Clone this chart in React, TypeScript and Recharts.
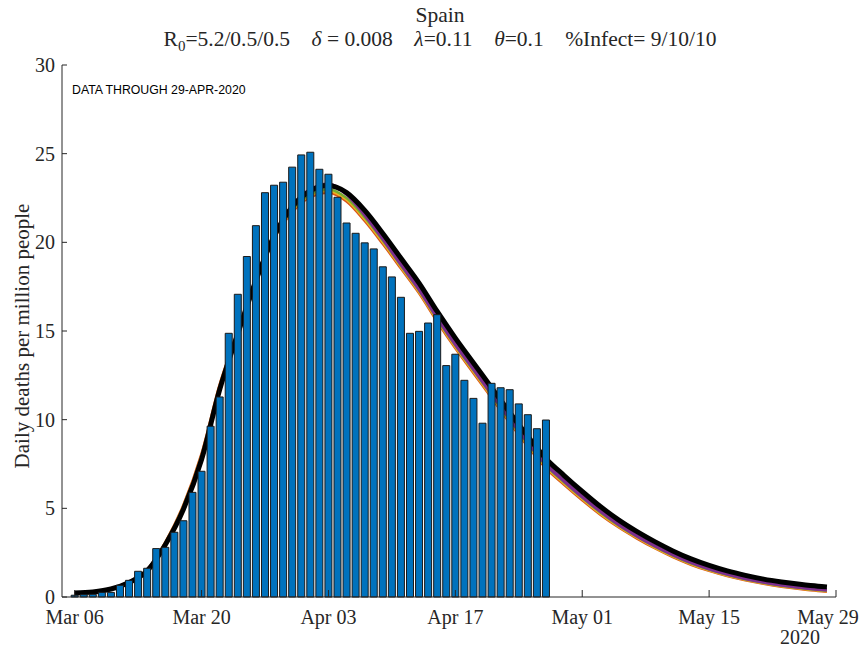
import React from "react";
import { ComposedChart, Bar, Line, XAxis, YAxis, Text } from "recharts";

// x positions are days after Mar 06 2020
const tickDays = [0, 14, 28, 42, 56, 70, 84];
const tickLabels = ["Mar 06", "Mar 20", "Apr 03", "Apr 17", "May 01", "May 15", "May 29"];
const yTicks = [0, 5, 10, 15, 20, 25, 30];

// reported daily deaths per million (Mar 06 .. Apr 27)
const deaths = [
  0.1, 0.13, 0.15, 0.26, 0.26, 0.66, 0.94, 1.45, 1.62, 2.73,
  2.8, 3.65, 4.3, 5.9, 7.09, 9.63, 11.28, 14.87, 17.07, 19.2,
  20.94, 22.8, 23.22, 23.39, 24.24, 24.93, 25.08, 24.12, 23.84, 22.54,
  21.09, 20.51, 19.97, 19.63, 18.62, 18.05, 16.9, 14.87, 14.98, 15.45,
  15.92, 13.05, 13.69, 12.22, 11.2, 9.8, 12.05, 11.8, 11.69, 10.89,
  10.28, 9.49, 9.98,
];

// model runs, sampled every other day
const modelDays = [
  0, 2, 4, 6, 8, 10, 12, 14, 16, 18, 20, 22, 24, 26, 28, 30, 32, 34, 36, 38, 40,
  42, 44, 46, 48, 50, 52, 54, 56, 58, 60, 62, 64, 66, 68, 70, 72, 74, 76, 78, 80, 82, 83,
];
const runOrange = [
  0.22, 0.29, 0.47, 0.86, 1.56, 3.1, 5.2, 8.1, 12.0, 15.0, 17.85, 20.2, 21.7, 22.55, 22.8,
  22.3, 21.2, 19.9, 18.52, 17.12, 15.52, 14.02, 12.62, 11.22, 9.82, 8.48, 7.25, 6.33, 5.46, 4.64,
  3.93, 3.31, 2.75, 2.25, 1.82, 1.47, 1.18, 0.94, 0.74, 0.58, 0.45, 0.34, 0.3,
];
const runYellow = [
  0.22, 0.29, 0.46, 0.85, 1.54, 3.06, 5.14, 8.0, 11.92, 14.95, 17.85, 20.24, 21.78, 22.63, 22.9,
  22.4, 21.3, 20.0, 18.6, 17.2, 15.6, 14.1, 12.7, 11.3, 9.9, 8.56, 7.33, 6.4, 5.52, 4.7,
  3.98, 3.36, 2.79, 2.29, 1.86, 1.51, 1.21, 0.97, 0.77, 0.61, 0.48, 0.37, 0.33,
];
const runGreen = [
  0.22, 0.29, 0.46, 0.84, 1.52, 3.02, 5.07, 7.92, 11.85, 14.9, 17.85, 20.28, 21.85, 22.72, 23.0,
  22.5, 21.4, 20.1, 18.68, 17.28, 15.68, 14.18, 12.78, 11.38, 9.98, 8.64, 7.41, 6.47, 5.59, 4.77,
  4.04, 3.41, 2.84, 2.34, 1.9, 1.55, 1.25, 1.0, 0.8, 0.64, 0.51, 0.4, 0.36,
];
const runPurple = [
  0.22, 0.28, 0.45, 0.83, 1.5, 2.98, 5.0, 7.82, 11.75, 14.88, 17.9, 20.4, 22.05, 22.98, 23.28,
  22.72, 21.55, 20.2, 18.76, 17.36, 15.76, 14.26, 12.86, 11.46, 10.06, 8.72, 7.49, 6.55, 5.66, 4.84,
  4.1, 3.46, 2.89, 2.39, 1.95, 1.59, 1.29, 1.04, 0.84, 0.68, 0.55, 0.44, 0.4,
];
const runBlack = [
  0.22, 0.28, 0.45, 0.82, 1.48, 2.95, 4.95, 7.75, 11.7, 14.85, 17.85, 20.35, 22.0, 22.9, 23.2,
  22.8, 21.8, 20.5, 19.1, 17.7, 16.1, 14.6, 13.2, 11.8, 10.4, 9.05, 7.8, 6.85, 5.95, 5.1,
  4.35, 3.7, 3.12, 2.6, 2.15, 1.78, 1.47, 1.22, 1.01, 0.85, 0.72, 0.61, 0.57,
];

const runs = [
  { key: "orange", values: runOrange, color: "#D95319", width: 2.5 },
  { key: "yellow", values: runYellow, color: "#EDB120", width: 2.5 },
  { key: "green", values: runGreen, color: "#77AC30", width: 2.5 },
  { key: "purple", values: runPurple, color: "#7E2F8E", width: 3.5 },
  { key: "black", values: runBlack, color: "#000000", width: 5 },
];

const data: Record<string, number>[] = [];
for (let d = 0; d <= 83; d++) {
  const row: Record<string, number> = { day: d };
  if (d < deaths.length) row.deaths = deaths[d];
  const k = modelDays.indexOf(d);
  if (k >= 0) runs.forEach((r) => { row[r.key] = r.values[k]; });
  data.push(row);
}

const ink = "#262626";
const serif = "Liberation Serif";
const tickStyle = { fontSize: 20, fill: ink, fontFamily: serif };
const gap = "\u00a0\u00a0\u00a0\u00a0";

// last date label is pulled in a little so it stays inside the figure
function DateTick(props: any) {
  const i = tickDays.indexOf(props.payload.value);
  const dx = i === tickDays.length - 1 ? -8 : 0;
  return (
    <Text x={props.x + dx} y={props.y} textAnchor="middle" verticalAnchor="start" {...tickStyle}>
      {tickLabels[i]}
    </Text>
  );
}

export default function App() {
  return (
    <div style={{ position: "relative", width: 860, height: 636, fontFamily: serif, color: ink }}>
      <style>{".recharts-surface { overflow: visible; }"}</style>
      <div style={{ position: "absolute", left: 4, width: 856, top: -5, textAlign: "center", fontSize: 21.5, lineHeight: "24px" }}>
        <div>Spain</div>
        <div>
          R<sub style={{ fontSize: 15, lineHeight: 0 }}>0</sub>=5.2/0.5/0.5{gap}<i>δ</i> = 0.008{gap}<i>λ</i>=0.11{gap}<i>θ</i>=0.1{gap}%Infect= 9/10/10
        </div>
      </div>
      <div style={{ position: "absolute", left: 64, top: 75, fontFamily: "Liberation Sans", fontSize: 12.3, color: "#000" }}>
        DATA THROUGH 29-APR-2020
      </div>
      <div style={{ position: "absolute", left: 772, top: 618, fontSize: 20 }}>2020</div>
      <div
        style={{
          position: "absolute", left: 14, top: 328, fontSize: 21, whiteSpace: "nowrap",
          transform: "translate(-50%, -50%) rotate(-90deg)",
        }}
      >
        Daily deaths per million people
      </div>
      <ComposedChart width={860} height={636} data={data} margin={{ top: 57, right: 32, bottom: 17, left: 0 }}>
        <XAxis
          dataKey="day"
          type="number"
          domain={[-1.4, 84]}
          ticks={tickDays}
          allowDataOverflow
          height={30}
          tick={DateTick}
          tickSize={-7}
          tickMargin={20}
          tickLine={{ stroke: ink }}
          axisLine={{ stroke: ink }}
          interval={0}
        />
        <YAxis
          type="number"
          domain={[0, 30]}
          ticks={yTicks}
          width={54}
          tick={tickStyle}
          tickSize={-5}
          tickMargin={12}
          tickLine={{ stroke: ink }}
          axisLine={{ stroke: ink }}
          interval={0}
        />
        {runs.map((r) => (
          <Line
            key={r.key}
            dataKey={r.key}
            type="monotone"
            stroke={r.color}
            strokeWidth={r.width}
            dot={false}
            connectNulls
            isAnimationActive={false}
          />
        ))}
        <Bar
          dataKey="deaths"
          barSize={7}
          fill="#0072BD"
          stroke="#1a1a1a"
          strokeWidth={1}
          zIndex={450}
          isAnimationActive={false}
        />
      </ComposedChart>
    </div>
  );
}
